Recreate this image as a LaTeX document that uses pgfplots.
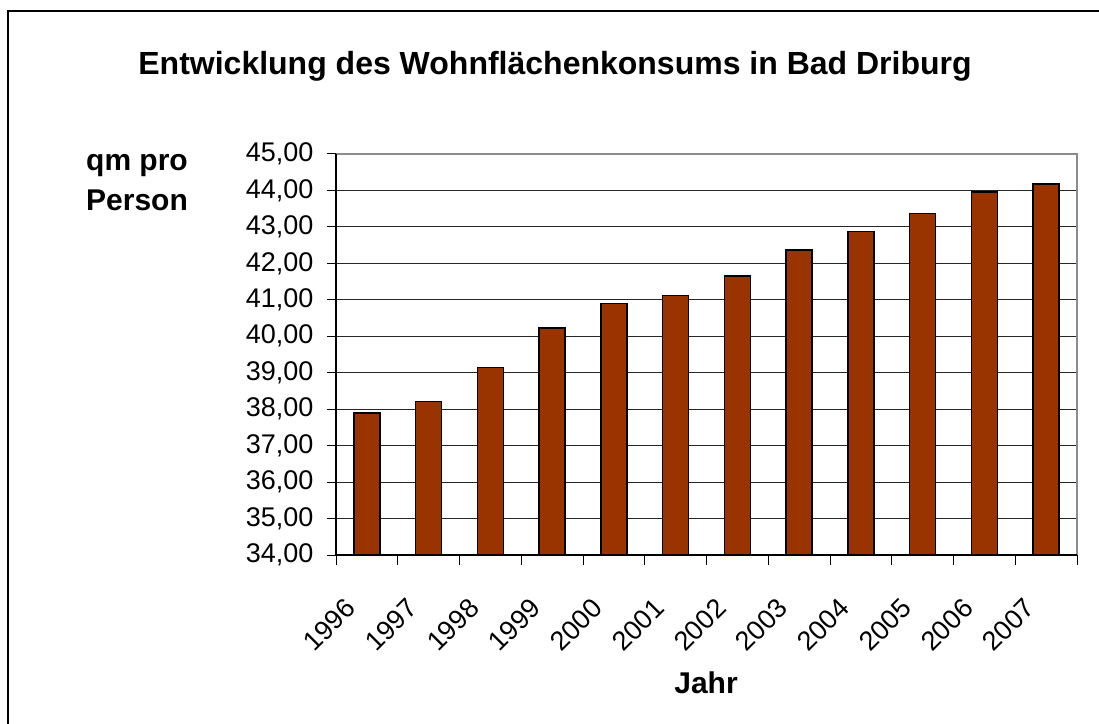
\documentclass[border=0pt]{standalone}
\usepackage{pgfplots}
\pgfplotsset{compat=1.18}
\usepackage{fontspec}
\setmainfont{Liberation Sans}
\definecolor{barbrown}{HTML}{993300}
\pgfplotstableread{
x y
0 37.89
1 38.21
2 39.15
3 40.23
4 40.90
5 41.12
6 41.66
7 42.37
8 42.87
9 43.37
10 43.96
11 44.18
}\datatable
\begin{document}
\begin{tikzpicture}[x=1pt,y=1pt]
\useasboundingbox (0,0) rectangle (1099,723);
\fill[white] (0,0) rectangle (1099,723);
\draw[line width=2pt] (8,-5) -- (8,712) -- (1110,712);
\node[anchor=base,font=\fontsize{32}{38}\selectfont\bfseries] at (555,648) {Entwicklung des Wohnflächenkonsums in Bad Driburg};
\node[anchor=base,font=\fontsize{30}{36}\selectfont\bfseries] at (137,552) {qm pro};
\node[anchor=base,font=\fontsize{30}{36}\selectfont\bfseries] at (137,512) {Person};
\node[anchor=base,font=\fontsize{30}{36}\selectfont\bfseries] at (706,30) {Jahr};
\begin{axis}[
  at={(336pt,168pt)}, anchor=south west,
  scale only axis, width=741pt, height=401pt,
  xmin=-0.5, xmax=11.5, ymin=34, ymax=45,
  ytick={34,35,...,45},
  xtick={0,...,11},
  xticklabels={1996,1997,1998,1999,2000,2001,2002,2003,2004,2005,2006,2007},
  minor xtick={-0.5,0.5,...,11.5},
  major x tick style={draw=none},
  xtick pos=bottom, ytick pos=left,
  minor tick length=10pt, major tick length=9pt,
  tick align=outside,
  tick style={black, line width=1pt},
  ymajorgrids, grid style={black!85, line width=1pt},
  axis line style={draw=none},
  /pgf/number format/.cd, fixed, fixed zerofill, precision=2, use comma, assume math mode=true,
  /pgfplots/.cd,
  yticklabel style={font=\fontsize{27}{32}\selectfont, anchor=east, xshift=-10pt},
  xticklabel style={font=\fontsize{27}{32}\selectfont, xshift=-23pt, yshift=-28pt, rotate=45, anchor=north east},
  clip=false,
]
\draw[gray!90, line width=1.5pt] (axis cs:-0.5,45) -- (axis cs:11.5,45) -- (axis cs:11.5,34);
\addplot[ybar, bar width=26pt, fill=barbrown, draw=black, line width=1.5pt] table[x=x,y=y] {\datatable};
\draw[black, line width=1.5pt] (axis cs:-0.5,45) -- (axis cs:-0.5,34) -- (axis cs:11.5,34);
\end{axis}
\end{tikzpicture}
\end{document}
